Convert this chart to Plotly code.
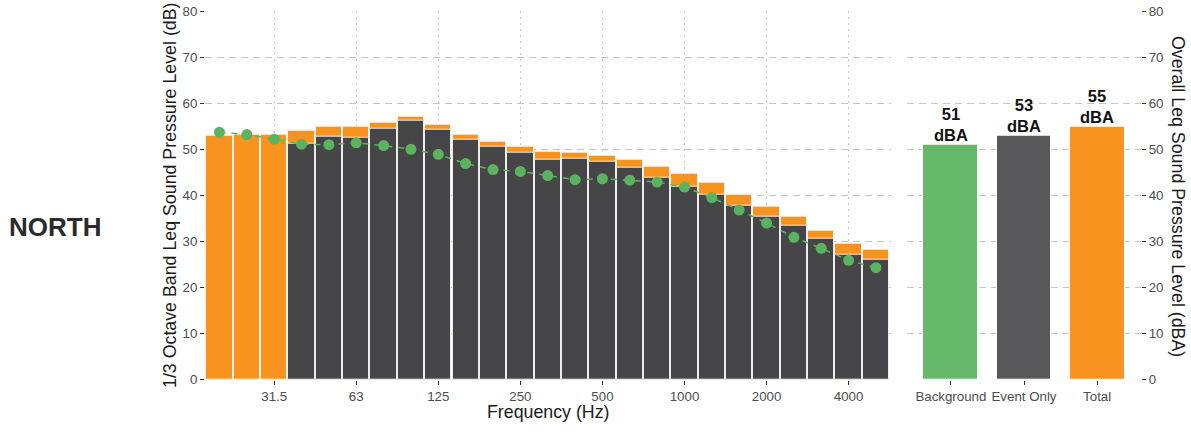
import plotly.graph_objects as go

# 1/3 octave band centre frequencies (Hz)
freq_labels = ["20", "25", "31.5", "40", "50", "63", "80", "100", "125", "160",
               "200", "250", "315", "400", "500", "630", "800", "1000", "1250",
               "1600", "2000", "2500", "3150", "4000", "5000"]

# Band levels (dB)
total_db = [52.9, 53.1, 53.1, 54.0, 54.9, 55.0, 55.8, 57.0, 55.4, 53.2, 51.6, 50.6,
            49.4, 49.3, 48.7, 47.8, 46.2, 44.8, 42.7, 40.2, 37.5, 35.3, 32.3, 29.5, 28.2]
event_db = [None, None, None, 51.3, 52.7, 52.6, 54.4, 56.1, 54.3, 52.1, 50.5, 49.3,
            47.8, 47.9, 47.2, 45.9, 43.9, 41.9, 40.1, 37.8, 35.3, 33.4, 30.5, 27.2, 26.0]
background_db = [53.7, 53.2, 52.2, 51.1, 51.0, 51.4, 50.8, 50.0, 48.9, 46.9, 45.6, 45.2,
                 44.3, 43.4, 43.6, 43.3, 42.9, 41.8, 39.5, 36.8, 34.0, 30.9, 28.5, 25.9, 24.3]

# Labelled frequency ticks
tick_labels = ["31.5", "63", "125", "250", "500", "1000", "2000", "4000"]

# Overall A-weighted levels (dBA)
overall_cats = ["Background", "Event Only", "Total"]
overall_dba = [51, 53, 55]

ORANGE = "#F7931E"
DARK = "#464648"
DARK2 = "#58585A"
GREEN = "#5BB35F"
GREEN_BAR = "#66B86A"
GRID = "#C4C4C4"
TICKTXT = "#4D4D4D"
FONT = "Liberation Sans, Arial, sans-serif"

W, H = 1191, 435
x_idx = list(range(len(freq_labels)))
tick_pos = [freq_labels.index(t) for t in tick_labels]

fig = go.Figure()

# Total level bars (behind)
fig.add_trace(go.Bar(
    x=x_idx, y=total_db, width=0.96,
    marker=dict(color=ORANGE, line=dict(color="#FFF3E6", width=1)),
    xaxis="x", yaxis="y", showlegend=False, hoverinfo="skip"))

# Event-only bars (front)
fig.add_trace(go.Bar(
    x=x_idx, y=event_db, width=0.96,
    marker=dict(color=DARK, line=dict(color="#EDEDED", width=1)),
    xaxis="x", yaxis="y", showlegend=False, hoverinfo="skip"))

# Background spectrum
fig.add_trace(go.Scatter(
    x=x_idx, y=background_db, mode="lines+markers",
    line=dict(color=GREEN, width=1.5, dash="6px,6px"),
    marker=dict(color=GREEN, size=11),
    xaxis="x", yaxis="y", showlegend=False, hoverinfo="skip"))

# Overall levels
fig.add_trace(go.Bar(
    x=overall_cats, y=overall_dba, width=0.75,
    marker=dict(color=[GREEN_BAR, DARK2, ORANGE], line=dict(color="#FFFFFF", width=1)),
    xaxis="x2", yaxis="y2", showlegend=False, hoverinfo="skip"))

y_bottom_px, y_top_px = 380.0, 10.7
y_dom = [(H - y_bottom_px) / H, (H - y_top_px) / H]
yr = [-0.08, 80.08]

annotations = []
for cat, val in zip(overall_cats, overall_dba):
    annotations.append(dict(x=cat, y=val, xref="x2", yref="y2",
                            text=f"<b>{val}<br>dBA</b>",
                            showarrow=False, yanchor="middle", yshift=20,
                            font=dict(family=FONT, size=16.5, color="#111111")))

annotations += [
    dict(x=55 / W, y=(H - 227) / H, xref="paper", yref="paper", text="<b>NORTH</b>",
         showarrow=False, xanchor="center", yanchor="middle",
         font=dict(family=FONT, size=26, color="#2B2B2B")),
    dict(x=170 / W, y=(H - 195) / H, xref="paper", yref="paper",
         text="1/3 Octave Band Leq Sound Pressure Level (dB)", textangle=-90,
         showarrow=False, xanchor="center", yanchor="middle",
         font=dict(family=FONT, size=17.8, color="#1A1A1A")),
    dict(x=1178 / W, y=(H - 196) / H, xref="paper", yref="paper",
         text="Overall Leq Sound Pressure Level (dBA)", textangle=90,
         showarrow=False, xanchor="center", yanchor="middle",
         font=dict(family=FONT, size=17.8, color="#1A1A1A")),
    dict(x=548 / W, y=(H - 412) / H, xref="paper", yref="paper",
         text="Frequency (Hz)", showarrow=False, xanchor="center", yanchor="middle",
         font=dict(family=FONT, size=17.8, color="#1A1A1A")),
]

common_y = dict(range=yr, domain=y_dom, tickvals=list(range(0, 81, 10)),
                ticks="outside", ticklen=4, tickcolor="#333333", tickwidth=1,
                showgrid=True, gridcolor=GRID, gridwidth=1, griddash="7px,5px",
                zeroline=False, showline=False, automargin=False,
                tickfont=dict(family=FONT, size=13.3, color=TICKTXT))

fig.update_layout(
    width=W, height=H,
    margin=dict(l=0, r=0, t=0, b=0),
    paper_bgcolor="white", plot_bgcolor="white",
    barmode="overlay", bargap=0,
    font=dict(family=FONT),
    xaxis=dict(domain=[205 / W, 891 / W], range=[-0.53, 24.55],
               tickvals=tick_pos, ticktext=tick_labels,
               ticks="outside", ticklen=4, tickcolor="#333333", tickwidth=1,
               showgrid=True, gridcolor=GRID, gridwidth=1, griddash="2px,4px",
               zeroline=False, showline=False, automargin=False, anchor="y",
               tickfont=dict(family=FONT, size=13.3, color=TICKTXT)),
    yaxis=dict(anchor="x", side="left", **common_y),
    xaxis2=dict(domain=[907 / W, 1141 / W], range=[-0.6, 2.6],
                ticks="outside", ticklen=4, tickcolor="#333333", tickwidth=1,
                showgrid=False, zeroline=False, showline=False, automargin=False,
                anchor="y2", type="category",
                tickfont=dict(family=FONT, size=13.3, color=TICKTXT)),
    yaxis2=dict(anchor="x2", side="right", **common_y),
    annotations=annotations,
)

fig.write_html("out.html")
